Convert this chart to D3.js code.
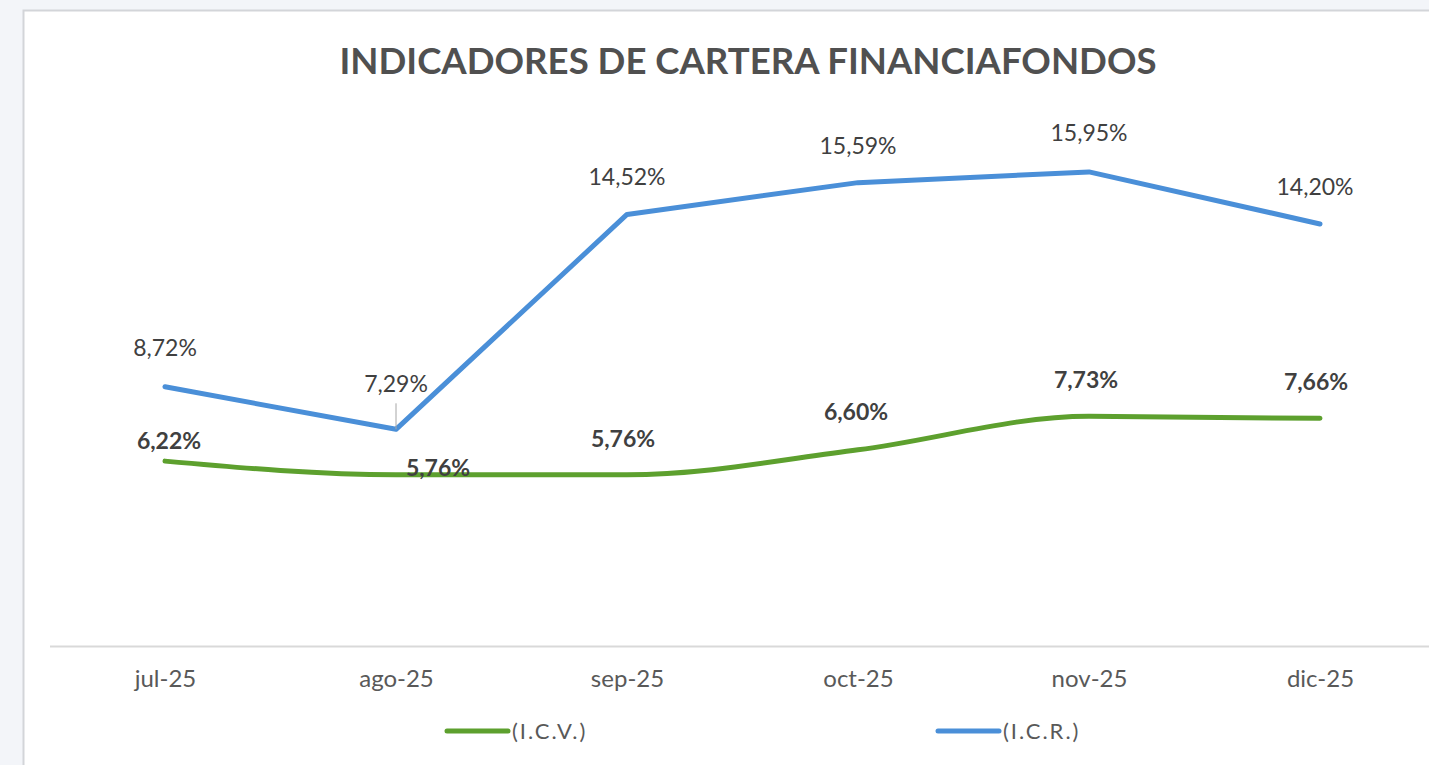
<!DOCTYPE html>
<html>
<head>
<meta charset="utf-8">
<script src="https://cdn.jsdelivr.net/npm/d3@7"></script>
<style>
  body { margin: 0; background: #f3f5f9; overflow: hidden; }
  svg { display: block; }
  text { font-family: Lato, "Open Sans", sans-serif; }
</style>
</head>
<body>
<script>
// data
var months = ["jul-25", "ago-25", "sep-25", "oct-25", "nov-25", "dic-25"];
var icv = [6.22, 5.76, 5.76, 6.60, 7.73, 7.66];
var icr = [8.72, 7.29, 14.52, 15.59, 15.95, 14.20];
var seriesNames = ["(I.C.V.)", "(I.C.R.)"];
var chartTitle = "INDICADORES DE CARTERA FINANCIAFONDOS";

var W = 1429, H = 765;
var fmt = function(v) { return v.toFixed(2).replace(".", ",") + "%"; };

var svg = d3.select("body").append("svg")
    .attr("width", W)
    .attr("height", H);

// white chart panel
svg.append("rect")
    .attr("x", 23.5).attr("y", 10.5)
    .attr("width", W).attr("height", H)
    .attr("fill", "#fff")
    .attr("stroke", "#d3d5d9")
    .attr("stroke-width", 2);

var x = d3.scalePoint()
    .domain(months)
    .range([49.5, 1435.5])
    .padding(0.5);

var y = d3.scaleLinear()
    .domain([0, 18])
    .range([646, 111]);

svg.append("text")
    .attr("x", 748).attr("y", 74)
    .attr("text-anchor", "middle")
    .attr("font-size", 37)
    .attr("font-weight", "bold")
    .attr("fill", "#505050")
    .attr("textLength", 817)
    .attr("lengthAdjust", "spacingAndGlyphs")
    .text(chartTitle);

// x axis
var xAxis = svg.append("g")
    .attr("transform", "translate(0,646)")
    .call(d3.axisBottom(x).tickSize(0).tickPadding(24));
xAxis.select(".domain").attr("stroke", "#d9d9d9").attr("stroke-width", 2);
xAxis.selectAll("text")
    .attr("font-size", 24)
    .attr("fill", "#595959")
    .style("font-family", "Lato, sans-serif");

var lineStraight = d3.line()
    .x(function(d, i) { return x(months[i]); })
    .y(function(d) { return y(d); });

var lineSmooth = d3.line()
    .x(function(d, i) { return x(months[i]); })
    .y(function(d) { return y(d); })
    .curve(d3.curveMonotoneX);

svg.append("path")
    .datum(icr)
    .attr("d", lineStraight)
    .attr("fill", "none")
    .attr("stroke", "#4a8fd8")
    .attr("stroke-width", 5)
    .attr("stroke-linejoin", "round")
    .attr("stroke-linecap", "round");

svg.append("path")
    .datum(icv)
    .attr("d", lineSmooth)
    .attr("fill", "none")
    .attr("stroke", "#5da02e")
    .attr("stroke-width", 5)
    .attr("stroke-linecap", "round");

// leader line for the ago-25 ICR label
svg.append("line")
    .attr("x1", x(months[1])).attr("x2", x(months[1]))
    .attr("y1", y(icr[1]) - 26).attr("y2", y(icr[1]))
    .attr("stroke", "#a6a6a6")
    .attr("stroke-width", 1);

// label nudges (dx, dy from the point)
var icrShift = [[0, -31], [0, -37], [0, -29], [0, -29], [0, -31], [-5, -29]];
var icvShift = [[4, -12], [42, 1], [-4, -28], [-2, -30], [-3, -28], [-4, -28]];

svg.selectAll(".lab-icr")
    .data(icr)
  .enter().append("text")
    .attr("class", "lab-icr")
    .attr("x", function(d, i) { return x(months[i]) + icrShift[i][0]; })
    .attr("y", function(d, i) { return y(d) + icrShift[i][1]; })
    .attr("text-anchor", "middle")
    .attr("font-size", 23)
    .attr("fill", "#404040")
    .text(fmt);

svg.selectAll(".lab-icv")
    .data(icv)
  .enter().append("text")
    .attr("class", "lab-icv")
    .attr("x", function(d, i) { return x(months[i]) + icvShift[i][0]; })
    .attr("y", function(d, i) { return y(d) + icvShift[i][1]; })
    .attr("text-anchor", "middle")
    .attr("font-size", 23)
    .attr("font-weight", "bold")
    .attr("fill", "#404040")
    .text(fmt);

// legend
var legend = [
  { name: seriesNames[0], color: "#5da02e", x: 447 },
  { name: seriesNames[1], color: "#4a8fd8", x: 938 }
];
var lg = svg.selectAll(".legend")
    .data(legend)
  .enter().append("g")
    .attr("transform", function(d) { return "translate(" + d.x + ",731)"; });
lg.append("line")
    .attr("x1", 0).attr("x2", 61)
    .attr("stroke", function(d) { return d.color; })
    .attr("stroke-width", 5)
    .attr("stroke-linecap", "round");
lg.append("text")
    .attr("x", 65).attr("y", 8)
    .attr("font-size", 22)
    .attr("letter-spacing", 2)
    .attr("fill", "#595959")
    .text(function(d) { return d.name; });
</script>
</body>
</html>
